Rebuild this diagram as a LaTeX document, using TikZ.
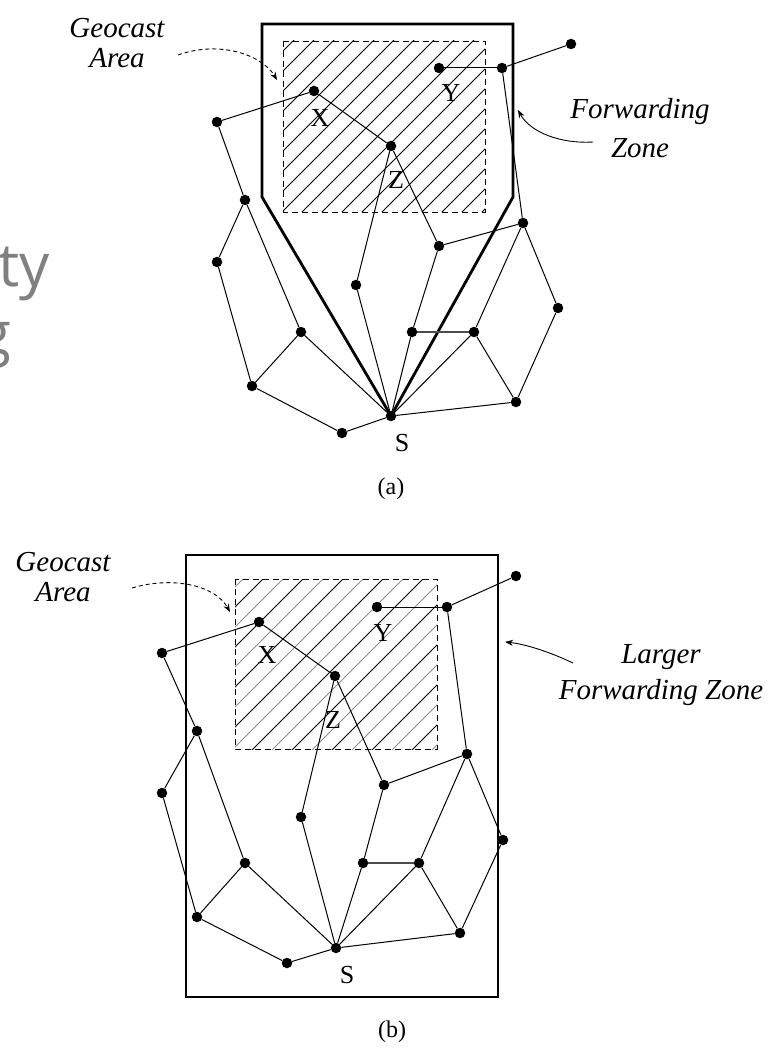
\documentclass[tikz,border=0pt]{standalone}
\usepackage{fontspec}
\setmainfont{Liberation Serif}
\newfontfamily\slidefont{Open Sans}
\usetikzlibrary{arrows.meta}

\begin{document}
\begin{tikzpicture}[x=1pt,y=-1pt,
  dot/.style={circle,fill=black,inner sep=0pt,minimum size=10.5pt},
  link/.style={line width=1pt},
  boldlink/.style={line width=1.9pt,black!70},
  zone/.style={line width=2.8pt,line join=miter},
  garea/.style={line width=0.9pt,dash pattern=on 6pt off 4pt},
  hatch/.style={line width=1pt},
  hatchlight/.style={line width=0.9pt,black!45},
  lbl/.style={inner sep=0pt,font=\fontsize{26}{30}\selectfont},
  ital/.style={inner sep=0pt,align=center,font=\fontsize{29}{30}\selectfont\itshape},
  callout/.style={line width=0.9pt,-{Stealth[length=8pt,width=6pt]}},
  slide/.style={inner sep=0pt,text=black!50,font=\fontsize{60}{67}\selectfont\slidefont},
]
\useasboundingbox[fill=white] (0,0) rectangle (774,1048);

% slide fragments
\node[slide,anchor=base west] (fragty) at (-2,287) {ty};
\node[slide,anchor=base east] (fragg) at (12,354) {g};

%================ (a) =================
\begin{scope}
  \clip (283,41) rectangle (485,212);
  \foreach \k in {-1,...,19}
    \draw[hatch] ({334+20*\k-250},250) -- ({334+20*\k+50},-50);
\end{scope}
\draw[garea] (283,41) rectangle (485,212);

\node[dot] (aS)  at (391,416) {};
\draw[zone] (262,197) -- (262,24) -- (513,24) -- (513,197) -- (aS.center) -- cycle;

\node[dot] (aX)  at (314,91) {};
\node[dot] (aL1) at (217,122) {};
\node[dot] (aL2) at (245,200) {};
\node[dot] (aL3) at (217,262) {};
\node[dot] (aZ)  at (391,146) {};
\node[dot] (aY)  at (439,68) {};
\node[dot] (aY2) at (502,68) {};
\node[dot] (aF)  at (571,44) {};
\node[dot] (aM)  at (356,285) {};
\node[dot] (aN1) at (439,246) {};
\node[dot] (aR1) at (523,223) {};
\node[dot] (aR2) at (558,308) {};
\node[dot] (aP)  at (301,332) {};
\node[dot] (aQ1) at (412,332) {};
\node[dot] (aQ2) at (474,332) {};
\node[dot] (aB1) at (252,386) {};
\node[dot] (aB2) at (342,433) {};
\node[dot] (aB3) at (516,402) {};

\draw[link] (aL1) -- (aX);
\draw[link] (aX) -- (aZ);
\draw[link] (aL1) -- (aL2);
\draw[link] (aL2) -- (aL3);
\draw[link] (aL2) -- (aP);
\draw[link] (aL3) -- (aB1);
\draw[link] (aB1) -- (aP);
\draw[link] (aB1) -- (aB2);
\draw[link] (aB2) -- (aS);
\draw[link] (aP) -- (aS);
\draw[link] (aM) -- (aS);
\draw[link] (aZ) -- (aM);
\draw[link] (aZ) -- (aN1);
\draw[link] (aN1) -- (aR1);
\draw[link] (aN1) -- (aQ1);
\draw[link] (aQ1) -- (aS);
\draw[boldlink] (aQ1) -- (aQ2);
\draw[link] (aQ2) -- (aS);
\draw[link] (aQ2) -- (aR1);
\draw[link] (aQ2) -- (aB3);
\draw[link] (aR1) -- (aR2);
\draw[link] (aR2) -- (aB3);
\draw[link] (aB3) -- (aS);
\draw[link] (aY2) -- (aR1);
\draw[link] (aY) -- (aY2);
\draw[link] (aY2) -- (aF);

\node[lbl] (aXl) at (320,118) {X};
\node[lbl] (aYl) at (451,93) {Y};
\node[lbl] (aZl) at (396,180) {Z};
\node[lbl] (aSl) at (402,443) {S};
\node[lbl,font=\fontsize{24}{28}\selectfont] (acap) at (391,489) {(a)};

\node[ital] (ageo) at (117,43) {Geocast\\Area};
\coordinate (ageoA) at (178,55);
\coordinate (ageoB) at (277,80);
\draw[callout,dash pattern=on 4pt off 3pt] (ageoA) .. controls (220,40) and (262,55) .. (ageoB);

\node[ital,font=\fontsize{29}{39}\selectfont\itshape] (afz) at (640,128) {Forwarding\\Zone};
\coordinate (afzA) at (593,142);
\coordinate (afzB) at (518,110);
\draw[callout] (afzA) .. controls (560,144) and (530,132) .. (afzB);

%================ (b) =================
\begin{scope}
  \clip (235,579) rectangle (437,749);
  \foreach \k in {-2,0,...,18}
    \draw[hatch] ({842+20*\k-1000},1000) -- ({842+20*\k-500},500);
  \foreach \k in {-1,1,...,19}
    \draw[hatchlight] ({842+20*\k-1000},1000) -- ({842+20*\k-500},500);
\end{scope}
\draw[garea] (235,579) rectangle (437,749);
\draw[zone] (186,555) rectangle (498,997);

\node[dot] (bS)  at (336,948) {};
\node[dot] (bX)  at (259,622) {};
\node[dot] (bL1) at (162,653) {};
\node[dot] (bL2) at (197,731) {};
\node[dot] (bL3) at (162,793) {};
\node[dot] (bZ)  at (335,676) {};
\node[dot] (bY)  at (377,607) {};
\node[dot] (bY2) at (447,607) {};
\node[dot] (bF)  at (516,576) {};
\node[dot] (bM)  at (301,817) {};
\node[dot] (bN1) at (384,785) {};
\node[dot] (bR1) at (467,754) {};
\node[dot] (bR2) at (503,840) {};
\node[dot] (bP)  at (245,863) {};
\node[dot] (bQ1) at (363,863) {};
\node[dot] (bQ2) at (419,863) {};
\node[dot] (bB1) at (197,917) {};
\node[dot] (bB2) at (287,963) {};
\node[dot] (bB3) at (460,933) {};

\draw[link] (bL1) -- (bX);
\draw[link] (bX) -- (bZ);
\draw[link] (bL1) -- (bL2);
\draw[link] (bL2) -- (bL3);
\draw[link] (bL2) -- (bP);
\draw[link] (bL3) -- (bB1);
\draw[link] (bB1) -- (bP);
\draw[link] (bB1) -- (bB2);
\draw[link] (bB2) -- (bS);
\draw[link] (bP) -- (bS);
\draw[link] (bM) -- (bS);
\draw[link] (bZ) -- (bM);
\draw[link] (bZ) -- (bN1);
\draw[link] (bN1) -- (bR1);
\draw[link] (bN1) -- (bQ1);
\draw[link] (bQ1) -- (bS);
\draw[boldlink] (bQ1) -- (bQ2);
\draw[link] (bQ2) -- (bS);
\draw[link] (bQ2) -- (bR1);
\draw[link] (bQ2) -- (bB3);
\draw[link] (bR1) -- (bR2);
\draw[link] (bR2) -- (bB3);
\draw[link] (bB3) -- (bS);
\draw[link] (bY2) -- (bR1);
\draw[link] (bY) -- (bY2);
\draw[link] (bY2) -- (bF);

\node[lbl] (bXl) at (267,655) {X};
\node[lbl] (bYl) at (383,633) {Y};
\node[lbl] (bZl) at (333,720) {Z};
\node[lbl] (bSl) at (347,975) {S};
\node[lbl,font=\fontsize{24}{28}\selectfont] (bcap) at (392,1032) {(b)};

\node[ital] (bgeo) at (63,577) {Geocast\\Area};
\coordinate (bgeoA) at (132,588);
\coordinate (bgeoB) at (230,612);
\draw[callout,dash pattern=on 4pt off 3pt] (bgeoA) .. controls (172,576) and (215,585) .. (bgeoB);

\node[ital,font=\fontsize{29}{36}\selectfont\itshape] (bfz) at (661,675) {Larger\\Forwarding Zone};
\coordinate (bfzA) at (573,663);
\coordinate (bfzB) at (505,642);
\draw[callout] (bfzA) .. controls (550,652) and (525,644) .. (bfzB);
\end{tikzpicture}
\end{document}
